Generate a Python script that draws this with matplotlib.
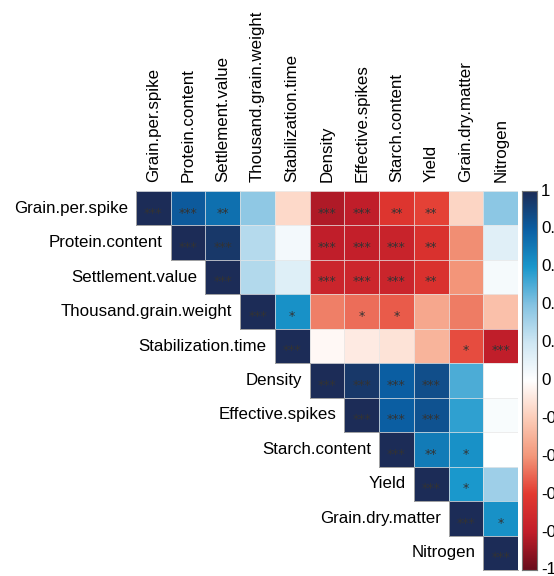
import numpy as np
import matplotlib
matplotlib.use("Agg")
import matplotlib.pyplot as plt
from matplotlib.colors import LinearSegmentedColormap
from matplotlib.patches import Rectangle

variables = ["Grain.per.spike", "Protein.content", "Settlement.value",
             "Thousand.grain.weight", "Stabilization.time", "Density",
             "Effective.spikes", "Starch.content", "Yield",
             "Grain.dry.matter", "Nitrogen"]

# upper-triangle correlation rows (starting at the diagonal)
corr_rows = [
    [1, 0.82, 0.74, 0.37, -0.15, -0.84, -0.80, -0.64, -0.58, -0.17, 0.38],
    [1, 0.95, 0.27, 0.05, -0.80, -0.79, -0.76, -0.66, -0.42, 0.13],
    [1, 0.28, 0.14, -0.75, -0.74, -0.75, -0.66, -0.40, 0.04],
    [1, 0.62, -0.45, -0.49, -0.53, -0.34, -0.46, -0.25],
    [1, -0.03, -0.08, -0.11, -0.29, -0.56, -0.80],
    [1, 0.95, 0.80, 0.86, 0.50, 0.00],
    [1, 0.80, 0.85, 0.56, 0.03],
    [1, 0.70, 0.62, 0.00],
    [1, 0.60, 0.33],
    [1, 0.62],
    [1],
]

# significance marks, same layout as corr_rows
sig_rows = [
    ["***", "***", "**", "", "", "***", "***", "**", "**", "", ""],
    ["***", "***", "", "", "***", "***", "***", "**", "", ""],
    ["***", "", "", "***", "***", "***", "**", "", ""],
    ["***", "*", "", "*", "*", "", "", ""],
    ["***", "", "", "", "", "*", "***"],
    ["***", "***", "***", "***", "", ""],
    ["***", "***", "***", "", ""],
    ["***", "**", "*", ""],
    ["***", "*", ""],
    ["***", "*"],
    ["***"],
]

legend_ticks = [1, 0.8, 0.6, 0.4, 0.2, 0, -0.2, -0.4, -0.6, -0.8, -1]

stops = [(-1.0, "#6a0d1c"), (-0.8, "#c21e2a"), (-0.6, "#e33a30"),
         (-0.4, "#f3977a"), (-0.2, "#fccdb9"), (0.0, "#ffffff"),
         (0.2, "#cfe7f3"), (0.4, "#85c3e2"), (0.6, "#1a98cc"),
         (0.8, "#0b5fa3"), (1.0, "#1c2c57")]
cmap = LinearSegmentedColormap.from_list(
    "corr", [((v + 1) / 2, c) for v, c in stops])

W, H = 554, 576
fig = plt.figure(figsize=(W / 100, H / 100), dpi=100)
font = "Liberation Sans"
fsize = 12.2

x0, x1, y0, y1 = 136, 518, 191, 570
ax = fig.add_axes([x0 / W, 1 - y1 / H, (x1 - x0) / W, (y1 - y0) / H])
n = len(variables)
ax.set_xlim(0, n)
ax.set_ylim(n, 0)
ax.axis("off")

for i, row in enumerate(corr_rows):
    for k, val in enumerate(row):
        j = i + k
        ax.add_patch(Rectangle((j, i), 1, 1, facecolor=cmap((val + 1) / 2),
                               edgecolor="#e6e6e6", linewidth=0.4))
        mark = sig_rows[i][k]
        if mark:
            ax.text(j + 0.5, i + 0.64, mark, ha="center", va="center",
                    fontsize=9, color="#333333", family="DejaVu Sans")

# outline of the triangle
for i in range(n):
    ax.plot([i, i], [i, i + 1], color="#9a9a9a", lw=0.6, clip_on=False)
    ax.plot([i, i + 1], [i + 1, i + 1], color="#9a9a9a", lw=0.6, clip_on=False)

for i, name in enumerate(variables):
    ax.text(i - 0.23, i + 0.5, name, ha="right", va="center",
            fontsize=fsize, family=font, color="black")
    ax.text(i + 0.5, -0.25, name, ha="center", va="bottom", rotation=90,
            fontsize=fsize, family=font, color="black")

# colour legend
cb_l, cb_r = 522, 537
cax = fig.add_axes([cb_l / W, 1 - y1 / H, (cb_r - cb_l) / W, (y1 - y0) / H])
grad = np.linspace(1, -1, 256).reshape(-1, 1)
cax.imshow(grad, aspect="auto", cmap=cmap, vmin=-1, vmax=1,
           extent=[0, 1, -1, 1])
cax.set_xticks([])
cax.set_yticks([])
for s in cax.spines.values():
    s.set_color("#777777")
    s.set_linewidth(0.8)

for t in legend_ticks:
    yp = y0 + (1 - t) / 2 * (y1 - y0)
    label = f"{t:g}"
    fig.text(541 / W, 1 - yp / H, label, ha="left", va="center",
             fontsize=fsize, family=font, color="black")

fig.savefig("out.png", dpi=100)
